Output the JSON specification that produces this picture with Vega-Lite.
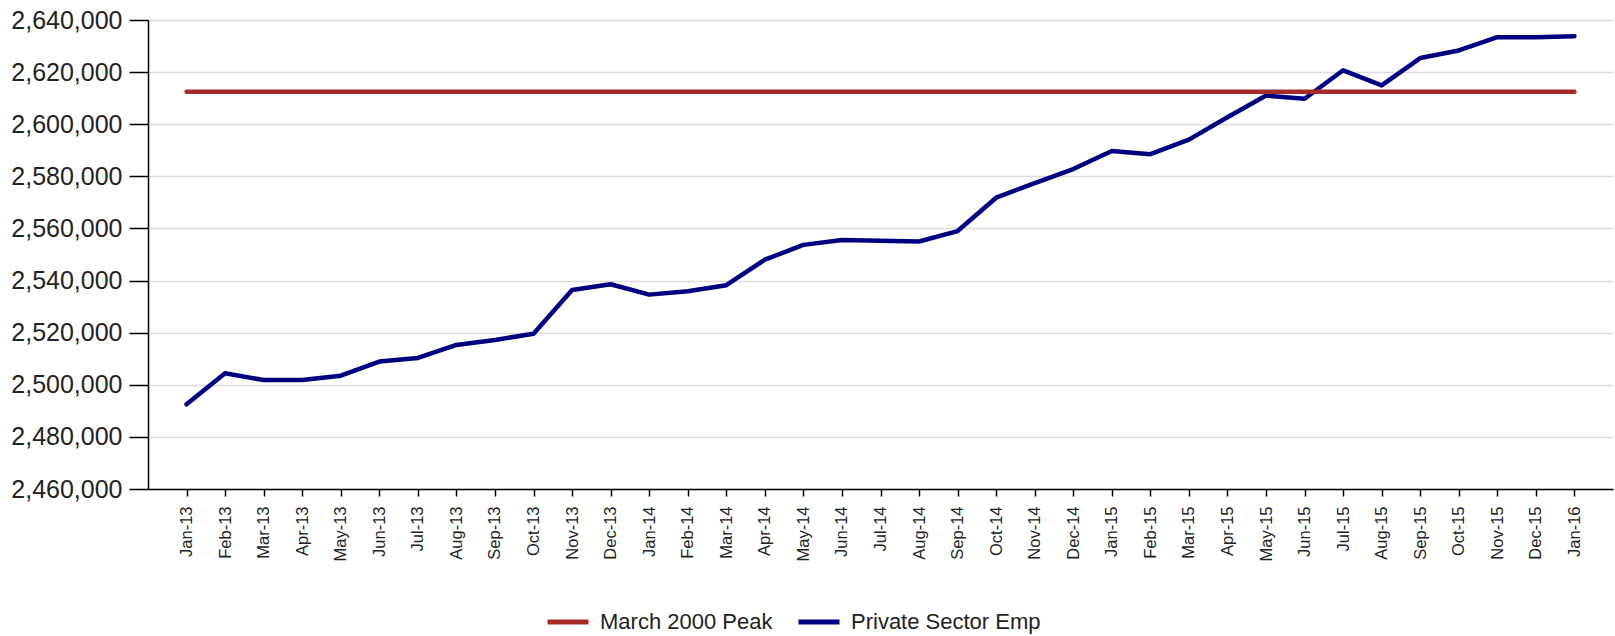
{
  "$schema": "https://vega.github.io/schema/vega-lite/v6.json",
  "width": 1465,
  "height": 469,
  "autosize": {"type": "none"},
  "padding": {"left": 148, "top": 20, "right": 2, "bottom": 147},
  "background": "white",
  "config": {"view": {"stroke": null}, "font": "Liberation Sans"},
  "data": {"values": [
    {"month": "Jan-13", "series": "Private Sector Emp", "value": 2492500},
    {"month": "Feb-13", "series": "Private Sector Emp", "value": 2504400},
    {"month": "Mar-13", "series": "Private Sector Emp", "value": 2501800},
    {"month": "Apr-13", "series": "Private Sector Emp", "value": 2501800},
    {"month": "May-13", "series": "Private Sector Emp", "value": 2503500},
    {"month": "Jun-13", "series": "Private Sector Emp", "value": 2508900},
    {"month": "Jul-13", "series": "Private Sector Emp", "value": 2510300},
    {"month": "Aug-13", "series": "Private Sector Emp", "value": 2515300},
    {"month": "Sep-13", "series": "Private Sector Emp", "value": 2517200},
    {"month": "Oct-13", "series": "Private Sector Emp", "value": 2519600},
    {"month": "Nov-13", "series": "Private Sector Emp", "value": 2536400},
    {"month": "Dec-13", "series": "Private Sector Emp", "value": 2538600},
    {"month": "Jan-14", "series": "Private Sector Emp", "value": 2534600},
    {"month": "Feb-14", "series": "Private Sector Emp", "value": 2535900},
    {"month": "Mar-14", "series": "Private Sector Emp", "value": 2538200},
    {"month": "Apr-14", "series": "Private Sector Emp", "value": 2548000},
    {"month": "May-14", "series": "Private Sector Emp", "value": 2553700},
    {"month": "Jun-14", "series": "Private Sector Emp", "value": 2555600},
    {"month": "Jul-14", "series": "Private Sector Emp", "value": 2555300},
    {"month": "Aug-14", "series": "Private Sector Emp", "value": 2555000},
    {"month": "Sep-14", "series": "Private Sector Emp", "value": 2559000},
    {"month": "Oct-14", "series": "Private Sector Emp", "value": 2571800},
    {"month": "Nov-14", "series": "Private Sector Emp", "value": 2577400},
    {"month": "Dec-14", "series": "Private Sector Emp", "value": 2582800},
    {"month": "Jan-15", "series": "Private Sector Emp", "value": 2589700},
    {"month": "Feb-15", "series": "Private Sector Emp", "value": 2588500},
    {"month": "Mar-15", "series": "Private Sector Emp", "value": 2594100},
    {"month": "Apr-15", "series": "Private Sector Emp", "value": 2602700},
    {"month": "May-15", "series": "Private Sector Emp", "value": 2611000},
    {"month": "Jun-15", "series": "Private Sector Emp", "value": 2609800},
    {"month": "Jul-15", "series": "Private Sector Emp", "value": 2620700},
    {"month": "Aug-15", "series": "Private Sector Emp", "value": 2614900},
    {"month": "Sep-15", "series": "Private Sector Emp", "value": 2625400},
    {"month": "Oct-15", "series": "Private Sector Emp", "value": 2628300},
    {"month": "Nov-15", "series": "Private Sector Emp", "value": 2633400},
    {"month": "Dec-15", "series": "Private Sector Emp", "value": 2633400},
    {"month": "Jan-16", "series": "Private Sector Emp", "value": 2633800},
    {"month": "Jan-13", "series": "March 2000 Peak", "value": 2612500},
    {"month": "Feb-13", "series": "March 2000 Peak", "value": 2612500},
    {"month": "Mar-13", "series": "March 2000 Peak", "value": 2612500},
    {"month": "Apr-13", "series": "March 2000 Peak", "value": 2612500},
    {"month": "May-13", "series": "March 2000 Peak", "value": 2612500},
    {"month": "Jun-13", "series": "March 2000 Peak", "value": 2612500},
    {"month": "Jul-13", "series": "March 2000 Peak", "value": 2612500},
    {"month": "Aug-13", "series": "March 2000 Peak", "value": 2612500},
    {"month": "Sep-13", "series": "March 2000 Peak", "value": 2612500},
    {"month": "Oct-13", "series": "March 2000 Peak", "value": 2612500},
    {"month": "Nov-13", "series": "March 2000 Peak", "value": 2612500},
    {"month": "Dec-13", "series": "March 2000 Peak", "value": 2612500},
    {"month": "Jan-14", "series": "March 2000 Peak", "value": 2612500},
    {"month": "Feb-14", "series": "March 2000 Peak", "value": 2612500},
    {"month": "Mar-14", "series": "March 2000 Peak", "value": 2612500},
    {"month": "Apr-14", "series": "March 2000 Peak", "value": 2612500},
    {"month": "May-14", "series": "March 2000 Peak", "value": 2612500},
    {"month": "Jun-14", "series": "March 2000 Peak", "value": 2612500},
    {"month": "Jul-14", "series": "March 2000 Peak", "value": 2612500},
    {"month": "Aug-14", "series": "March 2000 Peak", "value": 2612500},
    {"month": "Sep-14", "series": "March 2000 Peak", "value": 2612500},
    {"month": "Oct-14", "series": "March 2000 Peak", "value": 2612500},
    {"month": "Nov-14", "series": "March 2000 Peak", "value": 2612500},
    {"month": "Dec-14", "series": "March 2000 Peak", "value": 2612500},
    {"month": "Jan-15", "series": "March 2000 Peak", "value": 2612500},
    {"month": "Feb-15", "series": "March 2000 Peak", "value": 2612500},
    {"month": "Mar-15", "series": "March 2000 Peak", "value": 2612500},
    {"month": "Apr-15", "series": "March 2000 Peak", "value": 2612500},
    {"month": "May-15", "series": "March 2000 Peak", "value": 2612500},
    {"month": "Jun-15", "series": "March 2000 Peak", "value": 2612500},
    {"month": "Jul-15", "series": "March 2000 Peak", "value": 2612500},
    {"month": "Aug-15", "series": "March 2000 Peak", "value": 2612500},
    {"month": "Sep-15", "series": "March 2000 Peak", "value": 2612500},
    {"month": "Oct-15", "series": "March 2000 Peak", "value": 2612500},
    {"month": "Nov-15", "series": "March 2000 Peak", "value": 2612500},
    {"month": "Dec-15", "series": "March 2000 Peak", "value": 2612500},
    {"month": "Jan-16", "series": "March 2000 Peak", "value": 2612500}
  ]},
  "mark": {"type": "line", "strokeWidth": 4.5, "strokeJoin": "round", "strokeCap": "round"},
  "encoding": {
    "x": {
      "field": "month", "type": "ordinal", "sort": null,
      "scale": {"type": "point", "padding": 1},
      "axis": {
        "title": null, "labelAngle": -90, "labelFontSize": 16.5, "labelColor": "#222",
        "domainColor": "#000", "domainWidth": 1.5, "tickColor": "#000", "tickWidth": 1.5,
        "tickSize": 7, "labelPadding": 10, "grid": false
      }
    },
    "y": {
      "field": "value", "type": "quantitative",
      "scale": {"domain": [2460000, 2640000], "nice": false, "zero": false},
      "axis": {
        "title": null, "format": ",.0f", "values": [2460000, 2480000, 2500000, 2520000, 2540000, 2560000, 2580000, 2600000, 2620000, 2640000],
        "labelFontSize": 25, "labelColor": "#222", "labelPadding": 7,
        "domainColor": "#000", "domainWidth": 1.5, "tickColor": "#000", "tickWidth": 1.5, "tickSize": 19,
        "grid": true, "gridColor": "#dcdcdc", "gridWidth": 1.5
      }
    },
    "color": {
      "field": "series", "type": "nominal",
      "scale": {"domain": ["March 2000 Peak", "Private Sector Emp"], "range": ["#A52A2A", "#000080"]},
      "legend": {
        "title": null, "orient": "none", "direction": "horizontal",
        "legendX": 397, "legendY": 579, "padding": 0,
        "symbolType": "stroke", "symbolSize": 1681, "symbolStrokeWidth": 5,
        "labelFontSize": 22, "labelColor": "#222", "labelOffset": 9, "columnPadding": 15, "labelLimit": 400
      }
    }
  }
}
